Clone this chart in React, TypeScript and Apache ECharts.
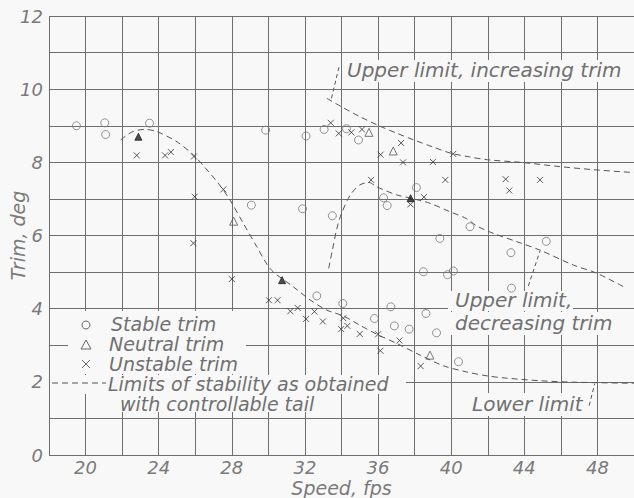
import React, { useEffect, useRef } from "react";
import * as echarts from "echarts";

// ---- data (speed fps, trim deg) ----
const stableTrim: [number, number][] = [
  [19.5, 9.0], [21.05, 9.08], [21.1, 8.76], [23.5, 9.07], [29.85, 8.88], [32.06, 8.72],
  [33.05, 8.9], [34.27, 8.92], [34.93, 8.61], [29.07, 6.83], [31.87, 6.73], [33.5, 6.54],
  [36.3, 7.03], [36.5, 6.82], [38.1, 7.31], [39.38, 5.92], [41.03, 6.24], [45.2, 5.84],
  [43.27, 5.53], [43.3, 4.56], [38.48, 5.01], [39.8, 4.93], [40.12, 5.03], [32.65, 4.35],
  [34.07, 4.14], [36.7, 4.05], [35.8, 3.73], [38.62, 3.87], [36.89, 3.53], [37.7, 3.44],
  [39.2, 3.34], [40.4, 2.55],
];
const neutralTrim: [number, number][] = [
  [35.5, 8.82], [36.83, 8.31], [38.84, 2.73], [28.1, 6.39],
];
const neutralFilled: [number, number][] = [
  [22.89, 8.7], [30.75, 4.78], [37.78, 7.02],
];
const unstableTrim: [number, number][] = [
  [22.8, 8.19], [24.35, 8.19], [24.67, 8.28], [25.93, 8.16], [25.97, 7.06], [25.9, 5.79],
  [27.54, 7.26], [28.0, 4.81], [30.03, 4.23], [30.5, 4.23], [31.2, 3.93], [31.6, 4.02],
  [32.06, 3.72], [32.52, 3.92], [32.98, 3.65], [34.1, 3.74], [33.98, 3.44], [34.32, 3.53],
  [35.0, 3.31], [36.0, 3.3], [36.13, 2.85], [37.17, 3.13], [38.33, 2.43], [33.41, 9.08],
  [33.85, 8.79], [34.54, 8.82], [35.12, 8.9], [37.26, 8.53], [36.14, 8.21], [37.37, 8.0],
  [39.0, 8.01], [40.11, 8.23], [35.62, 7.52], [39.68, 7.52], [38.51, 7.05], [37.77, 6.85],
  [42.98, 7.54], [43.18, 7.23], [44.86, 7.52],
];
// limits of stability (dashed)
const lowerLimit: [number, number][] = [
  [21.92, 8.61], [22.5, 8.82], [23.2, 8.9], [23.9, 8.84], [25.0, 8.56], [25.9, 8.2],
  [26.6, 7.82], [27.3, 7.4], [27.9, 6.97], [28.63, 6.33], [29.36, 5.7], [29.94, 5.2],
  [30.3, 4.99], [31.36, 4.6], [32.28, 4.24], [33.2, 3.96], [34.1, 3.8], [35.0, 3.55],
  [35.93, 3.3], [37.02, 3.05], [38.3, 2.73], [39.57, 2.44], [40.85, 2.27], [42.0, 2.16],
  [43.04, 2.1], [44.86, 2.03], [46.7, 1.99], [50.0, 1.96],
];
const upperDecreasing: [number, number][] = [
  [33.3, 5.1], [33.5, 5.6], [33.75, 6.2], [34.0, 6.6], [34.47, 7.1], [35.0, 7.38],
  [35.5, 7.45], [35.93, 7.33], [37.02, 7.11], [37.8, 7.02], [38.84, 6.88], [39.93, 6.65],
  [40.85, 6.46], [41.4, 6.26], [42.3, 6.06], [43.6, 5.83], [44.86, 5.6], [46.69, 5.19],
  [47.96, 4.97], [49.5, 4.58],
];
const upperIncreasing: [number, number][] = [
  [33.2, 9.75], [33.96, 9.53], [35.0, 9.25], [35.96, 9.02], [37.0, 8.8], [37.97, 8.61],
  [39.0, 8.42], [39.97, 8.25], [41.0, 8.15], [41.98, 8.07], [43.8, 8.0], [46.0, 7.88],
  [48.0, 7.79], [50.0, 7.72],
];
// leader lines from labels to curves
const leaderIncreasing: [number, number][] = [[33.86, 10.6], [33.45, 9.75]];
const leaderDecreasing: [number, number][] = [[44.22, 4.62], [44.86, 5.58]];
const leaderLower: [number, number][] = [[47.55, 1.35], [47.85, 1.95]];

const xTickLabels = [20, 24, 28, 32, 36, 40, 44, 48];
const yTickLabels = [0, 2, 4, 6, 8, 10, 12];

const BG = "#f8f8f8";
const GRID = "#6e6e6e";
const INK = "#707070";
const FONT = '"DejaVu Sans"';
const fontCss = (size: number) => `italic 200 ${size}px ${FONT}`;

const textEl = (text: string, x: number, y: number, size = 20) => ({
  type: "text",
  x,
  y,
  z: 10,
  style: { text, fill: INK, font: fontCss(size), verticalAlign: "middle", align: "left" },
});
const bgRect = (x: number, y: number, w: number, h: number) => ({
  type: "rect",
  z: 1,
  shape: { x, y, width: w, height: h },
  style: { fill: BG },
});

export default function App() {
  const ref = useRef<HTMLDivElement>(null);
  useEffect(() => {
    document.body.style.margin = "0";
    const chart = echarts.init(ref.current!, null, { renderer: "svg" });
    const dashed = { color: "#555", width: 1, type: [6, 4] as number[] };
    const axisText = { color: "#7a7a7a", fontFamily: FONT, fontStyle: "italic" as const, fontWeight: 200 };
    chart.setOption({
      animation: false,
      backgroundColor: BG,
      grid: { left: 49, right: 0, top: 16, bottom: 43, containLabel: false, outerBoundsMode: "none" },
      xAxis: {
        type: "value",
        min: 18,
        max: 50,
        interval: 2,
        axisLine: { show: false },
        axisTick: { show: false },
        splitLine: { show: true, lineStyle: { color: GRID, width: 1 } },
        axisLabel: {
          ...axisText,
          fontSize: 18,
          margin: 3,
          formatter: (v: number) => (xTickLabels.includes(v) ? String(v) : ""),
        },
        name: "Speed, fps",
        nameLocation: "middle",
        nameGap: 23,
        nameMoveOverlap: false,
        nameTextStyle: { ...axisText, fontSize: 19, verticalAlign: "top" },
      },
      yAxis: {
        type: "value",
        min: 0,
        max: 12,
        interval: 1,
        axisLine: { show: false },
        axisTick: { show: false },
        splitLine: { show: true, lineStyle: { color: GRID, width: 1 } },
        axisLabel: {
          ...axisText,
          fontSize: 18,
          margin: 6,
          formatter: (v: number) => (yTickLabels.includes(v) ? String(v) : ""),
        },
        name: "Trim, deg",
        nameLocation: "middle",
        nameGap: 31,
        nameMoveOverlap: false,
        nameTextStyle: { ...axisText, fontSize: 19, verticalAlign: "middle" },
      },
      series: [
        { type: "line", data: lowerLimit, smooth: 0.3, showSymbol: false, lineStyle: dashed, z: 3 },
        { type: "line", data: upperDecreasing, smooth: 0.3, showSymbol: false, lineStyle: dashed, z: 3 },
        { type: "line", data: upperIncreasing, smooth: 0.3, showSymbol: false, lineStyle: dashed, z: 3 },
        { type: "line", data: leaderIncreasing, showSymbol: false, lineStyle: { ...dashed, type: [4, 3] }, z: 3 },
        { type: "line", data: leaderDecreasing, showSymbol: false, lineStyle: { ...dashed, type: [4, 3] }, z: 3 },
        { type: "line", data: leaderLower, showSymbol: false, lineStyle: { ...dashed, type: [4, 3] }, z: 3 },
        {
          type: "scatter", data: stableTrim, symbol: "circle", symbolSize: 8, z: 4,
          itemStyle: { color: "rgba(0,0,0,0)", borderColor: "#777", borderWidth: 1 },
        },
        {
          type: "scatter", data: neutralTrim, symbol: "triangle", symbolSize: 8, z: 4,
          itemStyle: { color: "rgba(0,0,0,0)", borderColor: "#555", borderWidth: 1 },
        },
        {
          type: "scatter", data: neutralFilled, symbol: "triangle", symbolSize: 7, z: 4,
          itemStyle: { color: "#222", borderColor: "#222", borderWidth: 1 },
        },
        {
          type: "scatter", data: unstableTrim, symbol: "path://M0,0L10,10M10,0L0,10", symbolSize: 6, z: 4,
          itemStyle: { color: "rgba(0,0,0,0)", borderColor: "#333", borderWidth: 1 },
        },
      ],
      graphic: [
        // legend
        bgRect(68, 311, 178, 63),
        { type: "circle", z: 10, shape: { cx: 86, cy: 325, r: 4 }, style: { fill: "none", stroke: "#666", lineWidth: 1 } },
        { type: "polygon", z: 10, shape: { points: [[86, 340], [81, 349], [91, 349]] }, style: { fill: "none", stroke: "#666", lineWidth: 1 } },
        { type: "line", z: 10, shape: { x1: 82, y1: 360, x2: 90, y2: 368 }, style: { stroke: "#666", lineWidth: 1 } },
        { type: "line", z: 10, shape: { x1: 90, y1: 360, x2: 82, y2: 368 }, style: { stroke: "#666", lineWidth: 1 } },
        textEl("Stable trim", 111, 324, 19),
        textEl("Neutral trim", 109, 344, 19),
        textEl("Unstable trim", 109, 364, 19),
        bgRect(50, 375, 356, 19),
        { type: "line", z: 10, shape: { x1: 52, y1: 383, x2: 106, y2: 383 }, style: { stroke: "#555", lineWidth: 1, lineDash: [6, 4] } },
        textEl("Limits of stability as obtained", 108, 384, 19),
        bgRect(116, 394, 216, 18),
        textEl("with controllable tail", 120, 404, 19),
        // annotations
        bgRect(343, 60, 290, 22),
        textEl("Upper limit, increasing trim", 347, 70),
        bgRect(448, 291, 125, 20),
        textEl("Upper limit,", 455, 300),
        bgRect(448, 312, 176, 23),
        textEl("decreasing trim", 455, 323),
        bgRect(466, 393, 124, 23),
        textEl("Lower limit", 472, 404),
      ],
    });
    return () => chart.dispose();
  }, []);
  return (
    <div
      ref={ref}
      style={{ position: "absolute", left: 0, top: 0, width: 634, height: 498, background: BG }}
    />
  );
}
